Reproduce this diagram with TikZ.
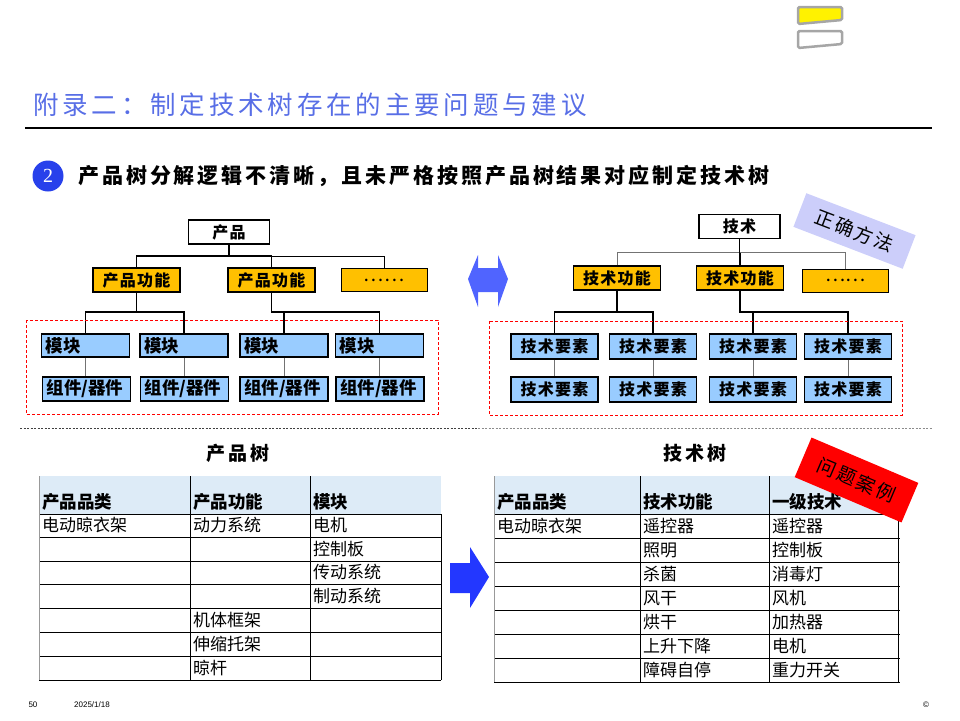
\documentclass[tikz,border=0pt]{standalone}
\usepackage{fontspec}
\setmainfont{Liberation Sans}
\newfontfamily\cjk{Noto Sans CJK SC}
\newfontfamily\numfont{Liberation Serif}
\definecolor{titleblue}{RGB}{88,110,230}
\definecolor{funcorange}{RGB}{255,192,0}
\definecolor{boxblue}{RGB}{153,204,255}
\definecolor{headblue}{RGB}{221,235,247}
\definecolor{okviolet}{RGB}{204,206,250}
\definecolor{arrowblue}{RGB}{80,100,255}
\definecolor{nextblue}{RGB}{35,55,255}
\definecolor{badgeblue}{RGB}{40,65,235}
\begin{document}
\begin{tikzpicture}[x=1pt, y=-1pt,
    top/.style={draw, line width=1.5pt, fill=white, minimum width=81, minimum height=24, inner sep=0pt,
      font=\cjk\bfseries\fontsize{16}{16}\selectfont\addfontfeature{LetterSpace=8}},
    func/.style={top, fill=funcorange, minimum width=87},
    more/.style={draw, line width=0.6pt, fill=funcorange, minimum width=86, minimum height=23, inner sep=0pt,
      font=\cjk\fontsize{19}{19}\selectfont},
    part/.style={draw, line width=1.5pt, fill=boxblue, minimum height=23, text width=80, inner xsep=4pt,
      inner ysep=0pt, align=left, font=\cjk\bfseries\fontsize{17.5}{17.5}\selectfont},
    elem/.style={top, fill=boxblue, minimum width=87, minimum height=25},
    link/.style={line width=1.5pt},
    thinlink/.style={line width=0.8pt, draw=black!55},
    zone/.style={draw=red, line width=0.8pt, dash pattern=on 3pt off 2pt},
    tag/.style={inner sep=0pt, font=\cjk\fontsize{19}{19}\selectfont\addfontfeature{LetterSpace=12}},
    caption/.style={inner sep=0pt, font=\cjk\bfseries\fontsize{19}{19}\selectfont\addfontfeature{LetterSpace=14}},
    cell/.style={anchor=west, inner sep=0pt, font=\cjk\fontsize{17}{17}\selectfont},
    headcell/.style={cell, font=\cjk\bfseries\fontsize{17.5}{17.5}\selectfont},
    grid/.style={line width=1pt}]
  \useasboundingbox (0,0) rectangle (960,720);
  % slide marker
  \draw[line width=2.5pt, draw=black!35, fill=yellow, rounded corners=1.5pt]
    (798,7) -- (842,7) -- (842,20) -- (820,22) -- (798,24) -- cycle;
  \draw[line width=2.5pt, draw=black!35, fill=white, rounded corners=1.5pt]
    (798,31) -- (842,31) -- (842,44) -- (820,46) -- (798,48) -- cycle;
  % heading
  \node[anchor=west, inner sep=0pt, text=titleblue,
    font=\cjk\fontsize{25.5}{25.5}\selectfont\addfontfeature{LetterSpace=15}] (title) at (33,105)
    {附录二：制定技术树存在的主要问题与建议};
  \draw[line width=1.5pt] (25,128) -- (932,128);
  \node[circle, fill=badgeblue, minimum size=31, inner sep=0pt, text=white,
    font=\numfont\fontsize{20}{20}\selectfont] (num) at (48,176) {2};
  \node[anchor=west, inner sep=0pt,
    font=\cjk\bfseries\fontsize{21}{21}\selectfont\addfontfeature{LetterSpace=14}] (lead) at (78,176)
    {产品树分解逻辑不清晰，且未严格按照产品树结果对应制定技术树};
  % product tree
  \node[top] (prod) at (229,232) {产品};
  \node[func] (pf1) at (136.5,280) {产品功能};
  \node[func] (pf2) at (271.5,280) {产品功能};
  \node[more] (pdots) at (384,280) {……};
  \node[part] (mod1) at (85.5,345.5) {模块};
  \node[part] (mod2) at (184,345.5) {模块};
  \node[part] (mod3) at (284,345.5) {模块};
  \node[part] (mod4) at (379.5,345.5) {模块};
  \node[part, minimum height=24] (comp1) at (86.5,389) {组件/器件};
  \node[part, minimum height=24] (comp2) at (184.5,389) {组件/器件};
  \node[part, minimum height=24] (comp3) at (284,389) {组件/器件};
  \node[part, minimum height=24] (comp4) at (380,389) {组件/器件};
  \coordinate (pbar) at (0,256);
  \coordinate (mbar) at (0,312);
  \draw[link] (prod.south) -- (prod.south |- pbar);
  \draw[link] (pf1.north) |- (pf2.north |- pbar) -- (pf2.north);
  \draw[line width=0.8pt] (pf2.north |- pbar) -| (pdots.north);
  \draw[link] (pf1.south) -- (pf1.south |- mbar);
  \draw[link] (mod1.north) |- (mod2.north |- mbar) -- (mod2.north);
  \draw[link] (pf2.south) |- (mod4.north |- mbar) -- (mod4.north);
  \draw[link] (mod3.north) -- (mod3.north |- mbar);
  \foreach \i in {1,...,4}
    \draw[thinlink] (mod\i.south) -- (mod\i.south |- comp\i.north);
  \draw[zone] (26,320) rectangle (438,414);
  % technology tree
  \node[top] (tech) at (739.5,226.5) {技术};
  \node[func] (tf1) at (617,278) {技术功能};
  \node[func] (tf2) at (740,278) {技术功能};
  \node[more] (tdots) at (845.5,280.5) {……};
  \foreach \x [count=\i] in {554.5,653,753,848} {
    \node[elem] (el\i) at (\x,346.5) {技术要素};
    \node[elem] (sub\i) at (\x,389.5) {技术要素};
  }
  \coordinate (tbar) at (0,252);
  \coordinate (ebar) at (0,312);
  \draw[link] (tech.south) -- (tech.south |- tbar);
  \draw[thinlink] (tf1.north) |- (tf2.north |- tbar);
  \draw[link] (tf2.north |- tbar) -- (tf2.north);
  \draw[thinlink] (tf2.north |- tbar) -| (tdots.north);
  \draw[link] (tf1.south) -- (tf1.south |- ebar);
  \draw[link] (el1.north) |- (el2.north |- ebar) -- (el2.north);
  \draw[link] (tf2.south) |- (el4.north |- ebar) -- (el4.north);
  \draw[link] (el3.north) -- (el3.north |- ebar);
  \foreach \i in {1,...,4}
    \draw[thinlink] (el\i.south) -- (sub\i.north);
  \draw[zone] (489,321) rectangle (902,415);
  \node[tag, fill=okviolet, rotate=-21, minimum width=117, minimum height=36] (okmark) at (854.5,231) {正确方法};
  % arrows
  \fill[arrowblue] (468,279) -- (478,255) -- (478,268) -- (498,268) -- (498,255) -- (508,279)
    -- (498,307) -- (498,292) -- (478,292) -- (478,307) -- cycle;
  \fill[nextblue] (450,563) -- (470,563) -- (470,547) -- (489,577) -- (470,608) -- (470,593)
    -- (450,593) -- cycle;
  % separator
  \draw[black!75, line width=1pt, dash pattern=on 2pt off 1.5pt] (20,428) -- (478,428);
  \draw[black!45, line width=1pt, dash pattern=on 2pt off 1.5pt] (478,428) -- (932,428);
  % product table
  \node[caption] (ptree) at (238,453) {产品树};
  \fill[headblue] (39,476) rectangle (441,514);
  \foreach \y in {514,537,561,584,608,632,656,680}
    \draw[grid] (39,\y) -- (441,\y);
  \draw[grid] (190,476) -- (190,680);
  \draw[grid] (310,476) -- (310,680);
  \draw[grid] (441,514) -- (441,680);
  \draw[grid, black!40] (39,476) -- (39,680);
  \node[headcell] (phead1) at (42,502) {产品品类};
  \node[headcell] (phead2) at (193,502) {产品功能};
  \node[headcell] (phead3) at (313,502) {模块};
  \foreach \x/\y/\t [count=\i] in {42/525/电动晾衣架, 193/525/动力系统, 313/525/电机,
      313/549/控制板, 313/572/传动系统, 313/596/制动系统,
      193/620/机体框架, 193/644/伸缩托架, 193/668/晾杆}
    \node[cell] (pcell\i) at (\x,\y) {\t};
  % technology table
  \node[caption] (ttree) at (695,453) {技术树};
  \fill[headblue] (494,476) rectangle (898,514);
  \foreach \y in {514,538,562,586,610,634,658,682}
    \draw[grid] (494,\y) -- (900,\y);
  \draw[grid] (640,476) -- (640,682);
  \draw[grid] (769,476) -- (769,682);
  \draw[grid] (898,514) -- (898,682);
  \draw[grid, black!40] (494,476) -- (494,682);
  \node[headcell] (thead1) at (497,502) {产品品类};
  \node[headcell] (thead2) at (643,502) {技术功能};
  \node[headcell] (thead3) at (772,502) {一级技术};
  \foreach \x/\y/\t [count=\i] in {497/526/电动晾衣架, 643/526/遥控器, 772/526/遥控器,
      643/550/照明, 772/550/控制板, 643/574/杀菌, 772/574/消毒灯,
      643/598/风干, 772/598/风机, 643/622/烘干, 772/622/加热器,
      643/646/上升下降, 772/646/电机, 643/670/障碍自停, 772/670/重力开关}
    \node[cell] (tcell\i) at (\x,\y) {\t};
  \node[tag, fill=red, rotate=-23, minimum width=116, minimum height=43] (badmark) at (856.5,480) {问题案例};
  % footer
  \node[inner sep=0pt, font=\fontsize{8}{8}\selectfont] (pageno) at (33,705) {50};
  \node[inner sep=0pt, font=\fontsize{8}{8}\selectfont] (date) at (92,705) {2025/1/18};
  \node[inner sep=0pt, font=\fontsize{8}{8}\selectfont] (copy) at (926,705) {©};
\end{tikzpicture}
\end{document}
